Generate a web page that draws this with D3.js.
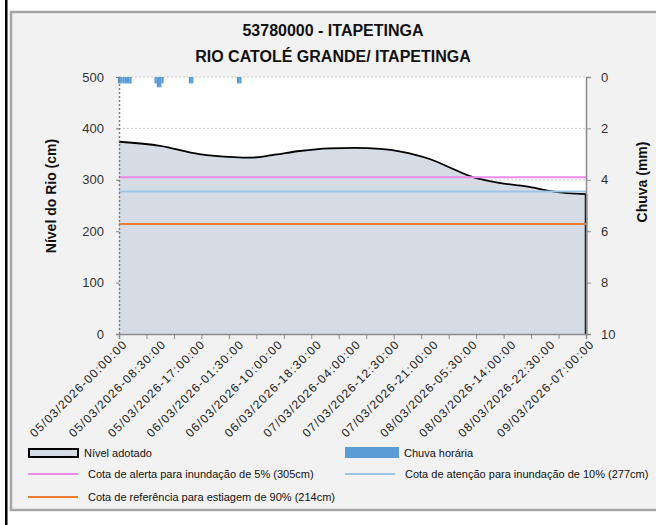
<!DOCTYPE html>
<html>
<head>
<meta charset="utf-8">
<script src="https://cdn.jsdelivr.net/npm/d3@7"></script>
<style>
  body { margin: 0; background: #fff; }
  text { font-family: "Liberation Sans", Arial, sans-serif; }
</style>
</head>
<body>
<script>
// categories on the x axis (half-hourly readings, label every 17)
var xLabels = ["05/03/2026-00:00:00","05/03/2026-08:30:00","05/03/2026-17:00:00","06/03/2026-01:30:00",
  "06/03/2026-10:00:00","06/03/2026-18:30:00","07/03/2026-04:00:00","07/03/2026-12:30:00",
  "07/03/2026-21:00:00","08/03/2026-05:30:00","08/03/2026-14:00:00","08/03/2026-22:30:00","09/03/2026-07:00:00"];
var labelStep = 17;
var lastCat = 204;

// river level (cm) read at some category positions
var levelCat = [0, 18, 35, 50, 57, 67, 79, 92, 103, 114, 123, 136, 145, 154, 166, 178, 190, 204];
var levelCm  = [374, 366, 350, 344, 343, 348, 356, 361, 362, 360, 355, 340, 323, 306, 294, 287, 277, 272];

// hourly rain (mm)
var rainCat = [0, 1, 2, 3, 4, 5, 16, 17, 18, 19, 31, 32, 52, 53];
var rainMm  = [0.25, 0.25, 0.25, 0.25, 0.25, 0.25, 0.25, 0.4, 0.4, 0.25, 0.25, 0.25, 0.25, 0.25];

// reference levels (cm)
var refNames = ["Cota de alerta para inundação de 5% (305cm)",
  "Cota de atenção para inundação de 10% (277cm)",
  "Cota de referência para estiagem de 90% (214cm)"];
var refCm = [305, 277, 214];
var refColors = ["#ee8aee", "#9dc3e6", "#ed7d31"];

var levelTicks = [0, 100, 200, 300, 400, 500];
var rainTicks = [0, 2, 4, 6, 8, 10];

var W = 656, H = 525;
var pL = 119, pR = 586, pT = 77, pB = 334;

var svg = d3.select("body").append("svg").attr("width", W).attr("height", H);

// outer black rule + chart frame
svg.append("rect").attr("x", 5).attr("y", 0).attr("width", 2.5).attr("height", H).attr("fill", "#000");
svg.append("rect").attr("x", 11).attr("y", 12).attr("width", 680).attr("height", 498)
  .attr("fill", "#f2f2f2").attr("stroke", "#a6a6a6").attr("stroke-width", 2.5);

var x = d3.scaleLinear().domain([0, lastCat]).range([pL, pR]);
var y = d3.scaleLinear().domain([0, 500]).range([pB, pT]);
var yr = d3.scaleLinear().domain([0, 10]).range([pT, pB]);

// plot area
svg.append("rect").attr("x", pL).attr("y", pT).attr("width", pR - pL).attr("height", pB - pT).attr("fill", "#fff");

// gridlines
svg.append("g").selectAll("line").data(levelTicks.slice(1)).enter().append("line")
  .attr("x1", pL).attr("x2", pR)
  .attr("y1", function(d) { return y(d); }).attr("y2", function(d) { return y(d); })
  .attr("stroke", "#c8c8c8").attr("stroke-dasharray", "2,2");

// level area
var pts = levelCat.map(function(c, i) { return {c: c, v: levelCm[i]}; });
var area = d3.area().x(function(d) { return x(d.c); }).y0(pB).y1(function(d) { return y(d.v); })
  .curve(d3.curveMonotoneX);
var line = d3.line().x(function(d) { return x(d.c); }).y(function(d) { return y(d.v); })
  .curve(d3.curveMonotoneX);
svg.append("path").attr("d", area(pts)).attr("fill", "#d6dce5");
svg.append("path").attr("d", line(pts)).attr("fill", "none").attr("stroke", "#000").attr("stroke-width", 1.8);
svg.append("line").attr("x1", x(lastCat)).attr("x2", x(lastCat))
  .attr("y1", y(levelCm[levelCm.length - 1])).attr("y2", pB)
  .attr("stroke", "#000").attr("stroke-width", 2.5);

// reference lines
svg.append("g").selectAll("line").data(refCm).enter().append("line")
  .attr("x1", pL).attr("x2", pR)
  .attr("y1", function(d) { return y(d); }).attr("y2", function(d) { return y(d); })
  .attr("stroke", function(d, i) { return refColors[i]; }).attr("stroke-width", 2);

// rain bars hanging from the top
var bw = x(1) - x(0);
svg.append("g").selectAll("rect").data(rainCat).enter().append("rect")
  .attr("x", function(d) { return x(d) - bw / 2; })
  .attr("y", pT)
  .attr("width", bw)
  .attr("height", function(d, i) { return yr(rainMm[i]) - pT; })
  .attr("fill", "#5b9bd5");

// left axis
var gl = svg.append("g").attr("transform", "translate(" + pL + ",0)")
  .call(d3.axisLeft(y).tickValues(levelTicks).tickSize(3).tickPadding(12));
gl.select(".domain").attr("stroke", "#7f7f7f").attr("stroke-dasharray", "2,2").attr("stroke-width", 1.5);
gl.selectAll(".tick line").attr("stroke", "#7f7f7f");
gl.selectAll(".tick text").attr("font-size", 13).attr("fill", "#333");

// right axis
var gr = svg.append("g").attr("transform", "translate(" + pR + ",0)")
  .call(d3.axisRight(yr).tickValues(rainTicks).tickSize(5).tickPadding(10));
gr.select(".domain").attr("stroke", "#8c8c8c").attr("stroke-width", 1.5);
gr.selectAll(".tick line").attr("stroke", "#8c8c8c");
gr.selectAll(".tick text").attr("font-size", 13).attr("fill", "#333");

// bottom axis
var minorTicks = d3.range(0, lastCat + 1, 12);
var gb = svg.append("g").attr("transform", "translate(0," + pB + ")")
  .call(d3.axisBottom(x).tickValues(minorTicks).tickSize(5).tickFormat(""));
gb.select(".domain").attr("stroke", "#8c8c8c").attr("stroke-width", 1.5);
gb.selectAll(".tick line").attr("stroke", "#8c8c8c");

svg.append("g").selectAll("text").data(xLabels).enter().append("text")
  .attr("transform", function(d, i) { return "translate(" + (x(i * labelStep) + 3) + "," + (pB + 5) + ") rotate(-45)"; })
  .attr("text-anchor", "end").attr("dy", "0.7em")
  .attr("font-size", 12).attr("letter-spacing", 1.1).attr("fill", "#222")
  .text(function(d) { return d; });

// titles
svg.append("text").attr("x", 333).attr("y", 36).attr("text-anchor", "middle")
  .attr("font-size", 16).attr("font-weight", "bold").attr("fill", "#111").text("53780000 - ITAPETINGA");
svg.append("text").attr("x", 333).attr("y", 62).attr("text-anchor", "middle")
  .attr("font-size", 16).attr("font-weight", "bold").attr("fill", "#111").text("RIO CATOLÉ GRANDE/ ITAPETINGA");

svg.append("text").attr("transform", "translate(56,196) rotate(-90)").attr("text-anchor", "middle")
  .attr("font-size", 14).attr("font-weight", "bold").attr("fill", "#111").text("Nível do Rio (cm)");
svg.append("text").attr("transform", "translate(647,182) rotate(-90)").attr("text-anchor", "middle")
  .attr("font-size", 14).attr("font-weight", "bold").attr("fill", "#111").text("Chuva (mm)");

// legend
var lg = svg.append("g").attr("font-size", 11);
lg.append("rect").attr("x", 29).attr("y", 449).attr("width", 49).attr("height", 8)
  .attr("fill", "#d6dce5").attr("stroke", "#000").attr("stroke-width", 2);
lg.append("text").attr("x", 84).attr("y", 457).attr("fill", "#111").text("Nível adotado");
lg.append("rect").attr("x", 345).attr("y", 447).attr("width", 54).attr("height", 11).attr("fill", "#5b9bd5");
lg.append("text").attr("x", 404).attr("y", 457).attr("fill", "#111").text("Chuva horária");

var legPos = [[28, 474], [345, 474], [28, 497]];
refNames.forEach(function(n, i) {
  var p = legPos[i];
  lg.append("line").attr("x1", p[0]).attr("x2", p[0] + 50).attr("y1", p[1]).attr("y2", p[1])
    .attr("stroke", refColors[i]).attr("stroke-width", 2);
  lg.append("text").attr("x", p[0] + 60).attr("y", p[1] + 4).attr("fill", "#111").text(n);
});
</script>
</body>
</html>
